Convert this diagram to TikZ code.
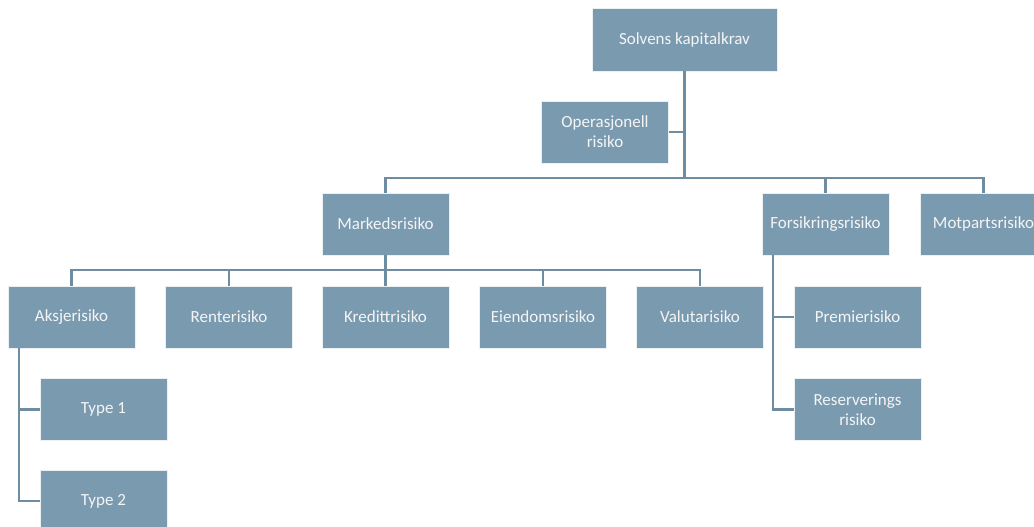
\documentclass[tikz,border=0pt]{standalone}
\usepackage{fontspec}
\setmainfont{Carlito}
\definecolor{boxfill}{RGB}{122,154,176}
\definecolor{linec}{RGB}{110,140,162}
\begin{document}
\begin{tikzpicture}[x=1pt,y=-1pt,
  rbox/.style={fill=boxfill, draw=white!85!boxfill, line width=0.6pt, text=white!96!black, minimum width=127pt, minimum height=62pt, inner sep=1pt, align=center, font=\fontsize{17}{20}\selectfont},
  conn/.style={draw=linec, line width=2.8pt}]
\clip (0,0) rectangle (1034,527);
\fill[white] (0,0) rectangle (1034,527);
% nodes
\node[rbox, minimum width=185pt, minimum height=63pt] (solv) at (684.5,39.5) {Solvens kapitalkrav};
\node[rbox] (oper) at (605,132) {Operasjonell\\risiko};
\node[rbox] (mark) at (385.5,224) {Markedsrisiko};
\node[rbox] (fors) at (825.5,224) {Forsikringsrisiko};
\node[rbox] (motp) at (983.5,224) {Motpartsrisiko};
\node[rbox] (aksj) at (71.5,317) {Aksjerisiko};
\node[rbox] (rent) at (229,317) {Renterisiko};
\node[rbox] (kred) at (385.5,317) {Kredittrisiko};
\node[rbox] (eien) at (543,317) {Eiendomsrisiko};
\node[rbox] (valu) at (700,317) {Valutarisiko};
\node[rbox] (type1) at (103.5,409.5) {Type 1};
\node[rbox] (type2) at (103.5,501) {Type 2};
\node[rbox] (prem) at (857.5,317) {Premierisiko};
\node[rbox] (rese) at (857.5,409.5) {Reserverings\\risiko};
% coordinates
\coordinate (bus1) at (684.5,178);
\coordinate (bus2) at (385.5,270);
\coordinate (aksjl) at (19,348);
\coordinate (forsl) at (773,255);
% connectors
\draw[conn] (solv.south) -- (bus1);
\draw[conn] (oper.east) -- (oper.east -| bus1);
\draw[conn] (mark.north) -- (mark.north |- bus1) -- (motp.north |- bus1) -- (motp.north);
\draw[conn] (fors.north) -- (fors.north |- bus1);
\draw[conn] (mark.south) -- (bus2);
\draw[conn] (aksj.north) -- (aksj.north |- bus2) -- (valu.north |- bus2) -- (valu.north);
\draw[conn] (rent.north) -- (rent.north |- bus2);
\draw[conn] (kred.north) -- (kred.north |- bus2);
\draw[conn] (eien.north) -- (eien.north |- bus2);
\draw[conn] (aksjl) -- (aksjl |- type2.west) -- (type2.west);
\draw[conn] (type1.west) -- (type1.west -| aksjl);
\draw[conn] (forsl) -- (forsl |- rese.west) -- (rese.west);
\draw[conn] (prem.west) -- (prem.west -| forsl);
\end{tikzpicture}
\end{document}
